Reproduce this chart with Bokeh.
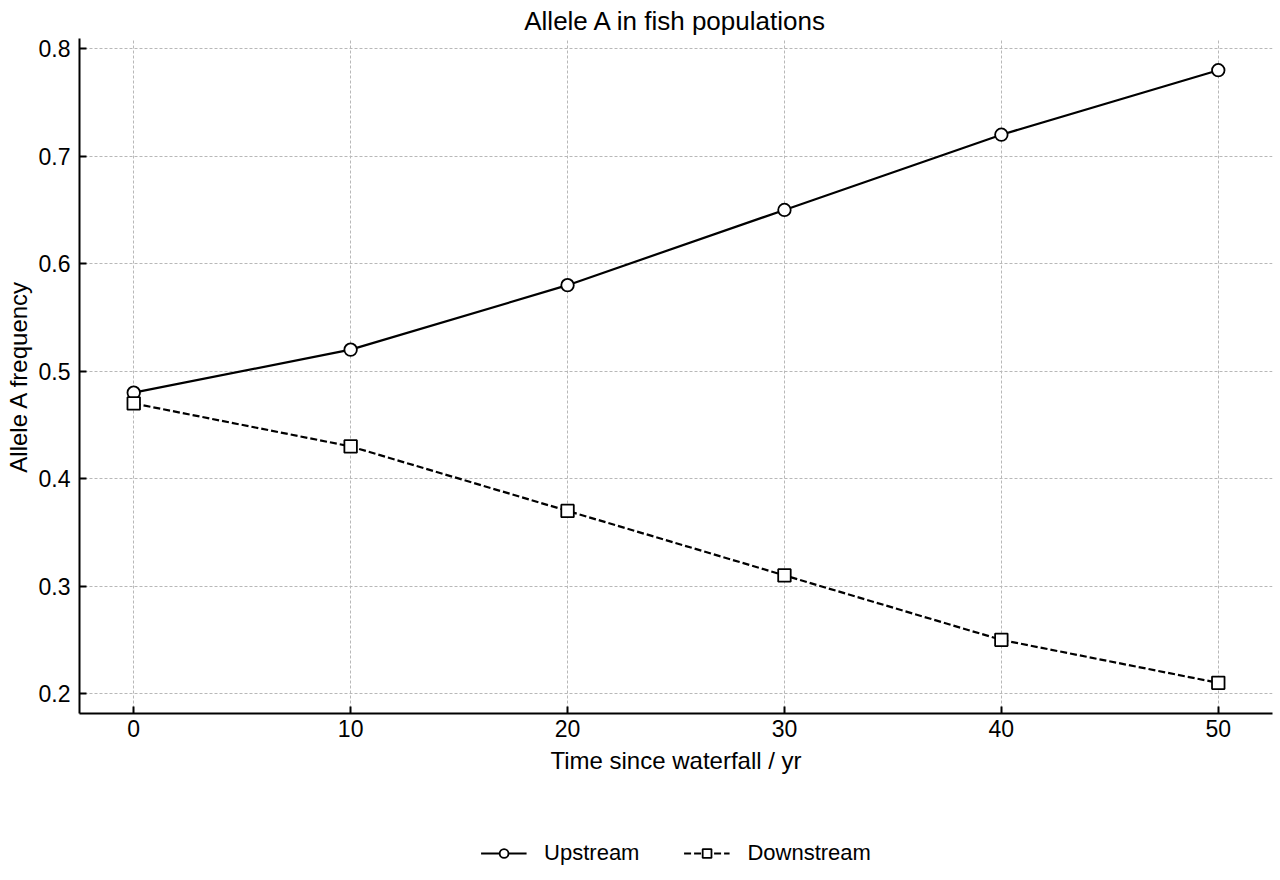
from bokeh.plotting import figure
from bokeh.models import Range1d, FixedTicker, Legend, LegendItem
from bokeh.layouts import column
from bokeh.embed import file_html
from bokeh.resources import INLINE

# data
years = [0, 10, 20, 30, 40, 50]
upstream = [0.48, 0.52, 0.58, 0.65, 0.72, 0.78]
downstream = [0.47, 0.43, 0.37, 0.31, 0.25, 0.21]
x_ticks = [0, 10, 20, 30, 40, 50]
y_ticks = [0.2, 0.3, 0.4, 0.5, 0.6, 0.7, 0.8]
series_names = ["Upstream", "Downstream"]

FONT = "Liberation Sans"

p = figure(
    frame_width=1193, frame_height=675,
    min_border_left=79, min_border_right=8, min_border_top=38, min_border_bottom=80,
    x_range=Range1d(-2.5, 52.5), y_range=Range1d(0.1815, 0.8095),
    title="Allele A in fish populations",
    output_backend="svg", toolbar_location=None,
)
p.outline_line_color = None
p.background_fill_color = "white"
p.border_fill_color = "white"

p.title.align = "center"
p.title.text_font = FONT
p.title.text_font_size = "26px"
p.title.text_font_style = "normal"
p.title.text_color = "black"
p.title.standoff = 6

for ax in (p.xaxis[0], p.yaxis[0]):
    ax.axis_line_width = 2
    ax.axis_line_color = "black"
    ax.major_tick_in = 7
    ax.major_tick_out = 0
    ax.major_tick_line_width = 2
    ax.minor_tick_line_color = None
    ax.major_label_text_font = FONT
    ax.major_label_text_font_size = "23px"
    ax.major_label_text_color = "black"
    ax.axis_label_text_font = FONT
    ax.axis_label_text_font_size = "24px"
    ax.axis_label_text_font_style = "normal"
    ax.axis_label_text_color = "black"

p.xaxis.ticker = FixedTicker(ticks=x_ticks)
p.yaxis.ticker = FixedTicker(ticks=y_ticks)
p.xaxis.axis_label = "Time since waterfall / yr"
p.yaxis.axis_label = "Allele A frequency"
p.xaxis.major_label_standoff = 6
p.yaxis.major_label_standoff = 9
p.xaxis.axis_label_standoff = 7
p.yaxis.axis_label_standoff = 4

p.grid.grid_line_color = "#b8b8b8"
p.grid.grid_line_dash = "3 2"
p.grid.grid_line_width = 1

line_kw = dict(line_color="black", line_width=2.2)
up_kw = dict(marker="circle", size=12.5, fill_color="white", line_color="black", line_width=1.8)
down_kw = dict(marker="square", size=12.5, fill_color="white", line_color="black", line_width=1.8)

p.line(years, upstream, **line_kw)
p.scatter(years, upstream, **up_kw)
p.line(years, downstream, line_dash="7 3", **line_kw)
p.scatter(years, downstream, **down_kw)

# legend strip under the chart; its y range is set so the series stay out of view
leg = figure(
    frame_width=1193, frame_height=87,
    min_border_left=79, min_border_right=8, min_border_top=0, min_border_bottom=0,
    x_range=Range1d(-2.5, 52.5), y_range=Range1d(5, 6),
    x_axis_location=None, y_axis_location=None,
    output_backend="svg", toolbar_location=None,
)
leg.outline_line_color = None
leg.grid.visible = False
k1 = leg.line(years, upstream, **line_kw)
k2 = leg.scatter(years, upstream, **up_kw)
k3 = leg.line(years, downstream, line_dash="7 3", **line_kw)
k4 = leg.scatter(years, downstream, **down_kw)

legend = Legend(
    items=[LegendItem(label=series_names[0], renderers=[k1, k2]),
           LegendItem(label=series_names[1], renderers=[k3, k4])],
    orientation="horizontal", location="bottom_center",
    border_line_color=None, background_fill_alpha=0,
    label_text_font=FONT, label_text_font_size="22px", label_text_color="black",
    glyph_width=46, glyph_height=22, label_height=22,
    label_standoff=18, spacing=44, margin=14, padding=0,
)
leg.add_layout(legend, "center")

open("out.html", "w").write(file_html(column(p, leg), INLINE))
